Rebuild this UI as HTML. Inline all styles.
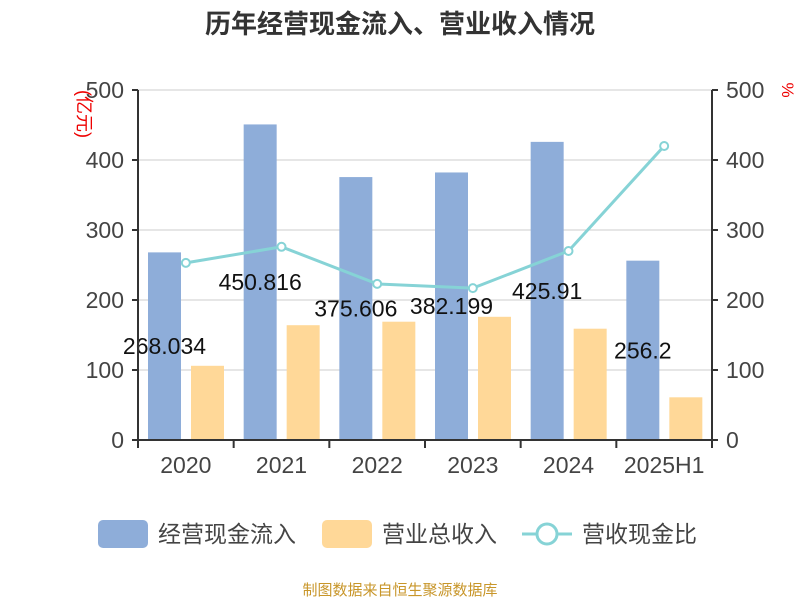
<!DOCTYPE html>
<html><head><meta charset="utf-8"><style>
body{margin:0;background:#fff;}
svg text{font-family:"Liberation Sans","Noto Sans CJK SC",sans-serif;}
</style></head><body>
<svg width="800" height="600" xmlns="http://www.w3.org/2000/svg">
<text x="400" y="33" text-anchor="middle" font-size="26" font-weight="bold" fill="#333">历年经营现金流入、营业收入情况</text>
<g id="grid"></g><g id="bars"></g><g id="line"></g><g id="axes"></g>
<text transform="translate(78,114) rotate(90)" text-anchor="middle" font-size="18" fill="#e00">(亿元)</text>
<text transform="translate(782,90) rotate(90)" text-anchor="middle" font-size="17" fill="#e00">%</text>
<g>
<rect x="98" y="520" width="50" height="28" rx="5" fill="#8eadd9"/>
<text x="158" y="542" font-size="23" fill="#444">经营现金流入</text>
<rect x="322" y="520" width="50" height="28" rx="5" fill="#ffd898"/>
<text x="382" y="542" font-size="23" fill="#444">营业总收入</text>
<line x1="522" y1="534" x2="572" y2="534" stroke="#86d3d6" stroke-width="3"/>
<circle cx="547" cy="534" r="10" fill="#fff" stroke="#86d3d6" stroke-width="3"/>
<text x="582" y="542" font-size="23" fill="#444">营收现金比</text>
</g>
<text x="400" y="595" text-anchor="middle" font-size="15" fill="#c8962a">制图数据来自恒生聚源数据库</text>
</svg>
<script>
const categories=["2020","2021","2022","2023","2024","2025H1"];
const cashInflow=[268.034,450.816,375.606,382.199,425.91,256.2];
const revenue=[106,164,169,176,159,61];
const ratio=[253,276,223,217,270,420];
const ticks=[0,100,200,300,400,500];
const NS="http://www.w3.org/2000/svg";
const x0=138,x1=712,yTop=90,yBot=440,maxV=500;
const cw=(x1-x0)/categories.length;
const y=v=>yBot-(v/maxV)*(yBot-yTop);
function mk(tag,attrs,parent,txt){const e=document.createElementNS(NS,tag);for(const k in attrs)e.setAttribute(k,attrs[k]);if(txt!==undefined)e.textContent=txt;document.getElementById(parent).appendChild(e);return e;}
ticks.forEach(t=>{
  const g=mk('line',{x1:x0,x2:x1,y1:y(t),y2:y(t),stroke:'#ccc','stroke-width':1},'grid');
  
  
  const l=mk('text',{x:x0-14,y:y(t)+8,'text-anchor':'end','font-size':23,fill:'#444'},'axes',t);
  
  
  const r=mk('text',{x:x1+14,y:y(t)+8,'text-anchor':'start','font-size':23,fill:'#444'},'axes',t);
  
  
  mk('line',{x1:x0-6,x2:x0,y1:y(t),y2:y(t),stroke:'#333','stroke-width':2},'axes');
  mk('line',{x1:x1,x2:x1+6,y1:y(t),y2:y(t),stroke:'#333','stroke-width':2},'axes');
});
mk('line',{x1:x0,x2:x0,y1:yTop,y2:yBot,stroke:'#333','stroke-width':2},'axes');
mk('line',{x1:x1,x2:x1,y1:yTop,y2:yBot,stroke:'#333','stroke-width':2},'axes');
mk('line',{x1:x0,x2:x1,y1:yBot,y2:yBot,stroke:'#333','stroke-width':2},'axes');
categories.forEach((c,i)=>{
  const cx=x0+cw*i;
  mk('line',{x1:cx,x2:cx,y1:yBot,y2:yBot+8,stroke:'#333','stroke-width':2},'axes');
  const t=mk('text',{x:cx+cw/2,y:yBot+33,'text-anchor':'middle','font-size':23,fill:'#444'},'axes',c);
  
  
  const b=mk('rect',{x:cx+10,y:y(cashInflow[i]),width:33,height:yBot-y(cashInflow[i]),fill:'#8eadd9'},'bars');
  
  
  const o=mk('rect',{x:cx+53,y:y(revenue[i]),width:33,height:yBot-y(revenue[i]),fill:'#ffd898'},'bars');
  
  
});
mk('line',{x1:x1,x2:x1,y1:yBot,y2:yBot+8,stroke:'#333','stroke-width':2},'axes');
const pts=ratio.map((v,i)=>[x0+cw*i+cw/2,y(v)]);
const pl=mk('polyline',{points:pts.map(p=>p.join(',')).join(' '),fill:'none',stroke:'#86d3d6','stroke-width':3},'line');


pts.forEach((p,i)=>{
  const c=mk('circle',{cx:p[0],cy:p[1],r:4,fill:'#fff',stroke:'#86d3d6','stroke-width':2},'line');
  
  
});
cashInflow.forEach((v,i)=>{
  const t=mk('text',{x:x0+cw*i+26.5,y:(y(v)+yBot)/2+8,'text-anchor':'middle','font-size':23,fill:'#111'},'line',String(v));
  
  
});
</script>
</body></html>
